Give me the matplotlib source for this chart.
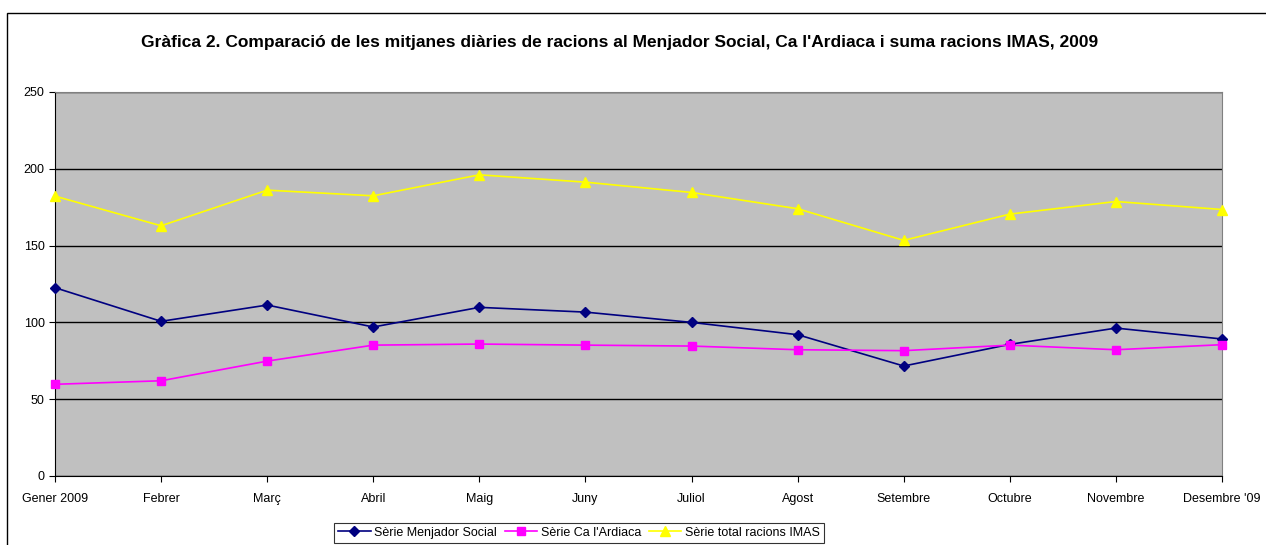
import matplotlib.pyplot as plt
from matplotlib.patches import Rectangle

plt.rcParams['font.family'] = ['Liberation Sans', 'DejaVu Sans']

# Monthly averages, 2009
months = ['Gener 2009', 'Febrer', 'Març', 'Abril', 'Maig', 'Juny', 'Juliol',
          'Agost', 'Setembre', 'Octubre', 'Novembre', "Desembre '09"]
menjador = [122.6, 100.7, 111.3, 97.0, 109.8, 106.7, 100.0, 92.0, 71.6, 85.7, 96.3, 89.2]
ardiaca = [59.7, 62.0, 74.8, 85.2, 85.9, 85.2, 84.6, 82.2, 81.6, 85.2, 82.2, 85.5]
total_imas = [182.2, 162.9, 186.1, 182.4, 196.1, 191.3, 184.6, 174.0, 153.4, 170.5, 178.7, 173.5]
y_ticks = [0, 50, 100, 150, 200, 250]

fig = plt.figure(figsize=(12.66, 5.45), dpi=100)

# outer chart-area frame (runs off the right and bottom edges)
fig.patches.append(Rectangle((7 / 1266, -0.1), 1.2, 1 - 13 / 545 + 0.1,
                             transform=fig.transFigure, fill=False,
                             edgecolor='#000000', linewidth=1.0))

ax = fig.add_axes([55 / 1266, 69 / 545, 1167 / 1266, 384 / 545])
ax.set_facecolor('#C0C0C0')

x = range(len(months))
ax.plot(x, menjador, color='#000080', marker='D', markersize=5, linewidth=1.2,
        label='Sèrie Menjador Social', clip_on=False, zorder=3)
ax.plot(x, ardiaca, color='#FF00FF', marker='s', markersize=6, linewidth=1.2,
        label="Sèrie Ca l'Ardiaca", clip_on=False, zorder=3)
ax.plot(x, total_imas, color='#FFFF00', marker='^', markersize=7, linewidth=1.2,
        label='Sèrie total racions IMAS', clip_on=False, zorder=3)

ax.set_xlim(0, len(months) - 1)
ax.set_ylim(0, 250)
ax.set_yticks(y_ticks)
ax.set_xticks(list(x))
ax.set_xticklabels(months)
ax.tick_params(axis='both', direction='out', length=4, labelsize=9, colors='#000000')
ax.tick_params(axis='x', pad=8)
ax.grid(axis='y', color='#000000', linewidth=1.0)
ax.set_axisbelow(True)
for side in ['top', 'right']:
    ax.spines[side].set_color('#808080')
for side in ['left', 'bottom']:
    ax.spines[side].set_color('#000000')

fig.text(620 / 1266, 1 - 42 / 545,
         "Gràfica 2. Comparació de les mitjanes diàries de racions al Menjador Social, "
         "Ca l'Ardiaca i suma racions IMAS, 2009",
         ha='center', va='center', fontsize=12.5, fontweight='bold')

leg = fig.legend(loc='upper center', bbox_to_anchor=(579 / 1266, 1 - 523 / 545),
                 ncol=3, fontsize=9, frameon=True, fancybox=False,
                 edgecolor='#000000', borderpad=0.3, columnspacing=0.6,
                 handlelength=2.6, handletextpad=0.3, borderaxespad=0)
leg.get_frame().set_linewidth(0.8)

fig.savefig('out.png', dpi=100)
